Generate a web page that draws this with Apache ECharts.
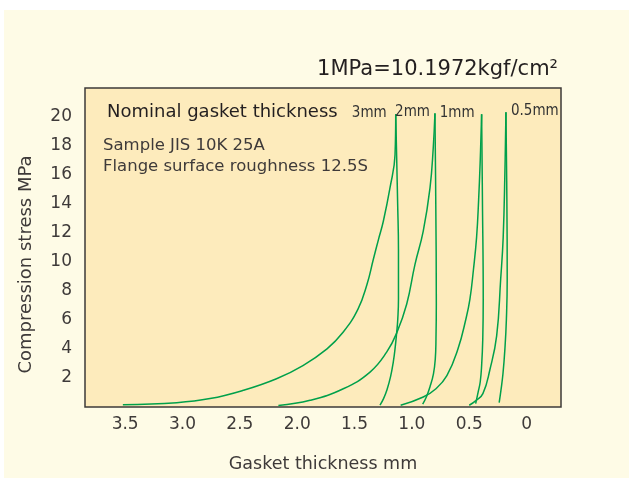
<!DOCTYPE html>
<html>
<head>
<meta charset="utf-8">
<script src="https://cdn.jsdelivr.net/npm/echarts@6/dist/echarts.min.js"></script>
<style>
	html, body { margin: 0; padding: 0; background: #ffffff; }
	#bg { position: absolute; left: 4px; top: 10px; width: 625px; height: 468px; background: #fefbe6; }
	#chart { position: absolute; left: 0; top: 0; width: 629px; height: 478px; }
</style>
</head>
<body>
<div id="bg"></div>
<div id="chart"></div>
<script>
	// thickness names, shown at the top of each loop
	var thicknessNames = ['3mm', '2mm', '1mm', '0.5mm'];

	// tick labels
	var xTicks = [0, 0.5, 1.0, 1.5, 2.0, 2.5, 3.0, 3.5];
	var yTicks = [2, 4, 6, 8, 10, 12, 14, 16, 18, 20];

	// [thickness mm, stress MPa]
	var load3 = [[3.52, 0.16], [3.05, 0.3], [2.76, 0.58], [2.47, 1.15], [2.18, 1.95], [1.95, 2.86], [1.74, 4.01],
		[1.60, 5.15], [1.47, 6.75], [1.391, 8.47], [1.336, 10.19], [1.291, 11.56], [1.249, 12.81], [1.191, 15.11],
		[1.147, 17.39], [1.141, 20.19]];
	var unload3 = [[1.141, 20.19], [1.124, 13.96], [1.117, 10.87], [1.117, 7.44], [1.123, 6.07], [1.132, 5.19],
		[1.147, 4.01], [1.162, 3.12], [1.186, 2.09], [1.217, 1.19], [1.247, 0.58], [1.278, 0.13]];

	var load2 = [[2.164, 0.1], [1.888, 0.46], [1.598, 1.26], [1.365, 2.41], [1.22, 3.78], [1.132, 5.11],
		[1.045, 7.1], [0.973, 9.84], [0.901, 12.13], [0.842, 15.11], [0.814, 17.85], [0.799, 20.25]];
	var unload2 = [[0.799, 20.25], [0.792, 14.3], [0.787, 7.1], [0.79, 4.69], [0.796, 3.32], [0.812, 2.29],
		[0.842, 1.4], [0.873, 0.71], [0.906, 0.2]];

	var load1 = [[1.098, 0.12], [0.901, 0.69], [0.79, 1.26], [0.695, 2.16], [0.598, 4.01], [0.529, 6.07],
		[0.494, 7.44], [0.463, 9.5], [0.436, 11.7], [0.418, 14.3], [0.404, 17.05], [0.392, 20.19]];
	var unload1 = [[0.392, 20.19], [0.385, 14.3], [0.378, 7.44], [0.382, 4.69], [0.392, 2.86], [0.404, 1.74],
		[0.422, 1.04], [0.444, 0.23]];

	var load05 = [[0.5, 0.12], [0.442, 0.44], [0.381, 0.92], [0.32, 2.57], [0.261, 4.9], [0.226, 8.81],
		[0.204, 11.7], [0.189, 16.22], [0.18, 20.32]];
	var unload05 = [[0.18, 20.32], [0.172, 14.3], [0.169, 8.81], [0.176, 6.07], [0.189, 4.01], [0.206, 2.29],
		[0.224, 1.13], [0.239, 0.3]];

	var textFont = '"DejaVu Sans", "Noto Sans", sans-serif';
	var green = '#00a04a';

	// put the thickness name on the top point of a loading curve
	function withName(data, name, pos, dist) {
		var out = data.slice(0, data.length - 1);
		var last = data[data.length - 1];
		out.push({
			value: last,
			label: {
				show: true,
				formatter: name,
				position: pos,
				distance: dist,
				offset: [0, -1],
				color: '#333333',
				fontSize: 15,
				fontFamily: '"DejaVu Sans Condensed", "Liberation Sans Narrow", sans-serif'
			}
		});
		return out;
	}

	function lineSeries(data) {
		return {
			type: 'line',
			data: data,
			smooth: 0.45,
			symbol: 'circle',
			symbolSize: 0,
			showSymbol: true,
			silent: true,
			lineStyle: { color: green, width: 1.5 },
			itemStyle: { color: green },
			label: { show: false }
		};
	}

	var chart = echarts.init(document.getElementById('chart'));

	chart.setOption({
		backgroundColor: 'transparent',
		animation: false,
		grid: {
			left: 85,
			right: 68,
			top: 88,
			bottom: 69.5,
			show: true,
			backgroundColor: '#fdebbc',
			borderColor: '#3d3a38',
			borderWidth: 1.5
		},
		xAxis: {
			type: 'value',
			inverse: true,
			min: -0.3,
			max: 3.85,
			name: 'Gasket thickness mm',
			nameLocation: 'middle',
			nameGap: 48,
			nameTextStyle: { color: '#3e3a39', fontSize: 17.5, fontFamily: textFont },
			axisLine: { show: false },
			axisTick: { show: false },
			splitLine: { show: false },
			axisLabel: {
				customValues: xTicks,
				margin: 9,
				color: '#3e3a39',
				fontSize: 17,
				fontFamily: textFont,
				formatter: function(v) { return v === 0 ? '0' : v.toFixed(1); }
			}
		},
		yAxis: {
			type: 'value',
			min: 0,
			max: 22,
			name: 'Compression stress MPa',
			nameLocation: 'middle',
			nameRotate: 90,
			nameGap: 50,
			nameTextStyle: { color: '#3e3a39', fontSize: 18, fontFamily: textFont, padding: [0, 34, 0, 0] },
			axisLine: { show: false },
			axisTick: { show: false },
			splitLine: { show: false },
			axisLabel: {
				customValues: yTicks,
				margin: 13,
				color: '#3e3a39',
				fontSize: 17,
				fontFamily: textFont
			}
		},
		graphic: [{
			type: 'text',
			x: 558, y: 70,
			style: {
				text: '1MPa=10.1972kgf/cm²',
				align: 'right', verticalAlign: 'middle',
				fill: '#231f20', fontSize: 21, fontFamily: textFont
			}
		}, {
			type: 'text',
			x: 107, y: 112,
			style: {
				text: 'Nominal gasket thickness',
				align: 'left', verticalAlign: 'middle',
				fill: '#231f20', fontSize: 18, fontFamily: textFont
			}
		}, {
			type: 'text',
			x: 103, y: 146,
			style: {
				text: 'Sample JIS 10K 25A',
				align: 'left', verticalAlign: 'middle',
				fill: '#3e3a39', fontSize: 16.5, fontFamily: textFont
			}
		}, {
			type: 'text',
			x: 103, y: 167,
			style: {
				text: 'Flange surface roughness 12.5S',
				align: 'left', verticalAlign: 'middle',
				fill: '#3e3a39', fontSize: 16.5, fontFamily: textFont
			}
		}],
		series: [
			lineSeries(withName(load3, thicknessNames[0], 'left', 9)),
			lineSeries(unload3),
			lineSeries(withName(load2, thicknessNames[1], 'left', 5)),
			lineSeries(unload2),
			lineSeries(withName(load1, thicknessNames[2], 'left', 7)),
			lineSeries(unload1),
			lineSeries(withName(load05, thicknessNames[3], 'right', 5)),
			lineSeries(unload05)
		]
	});
</script>
</body>
</html>
